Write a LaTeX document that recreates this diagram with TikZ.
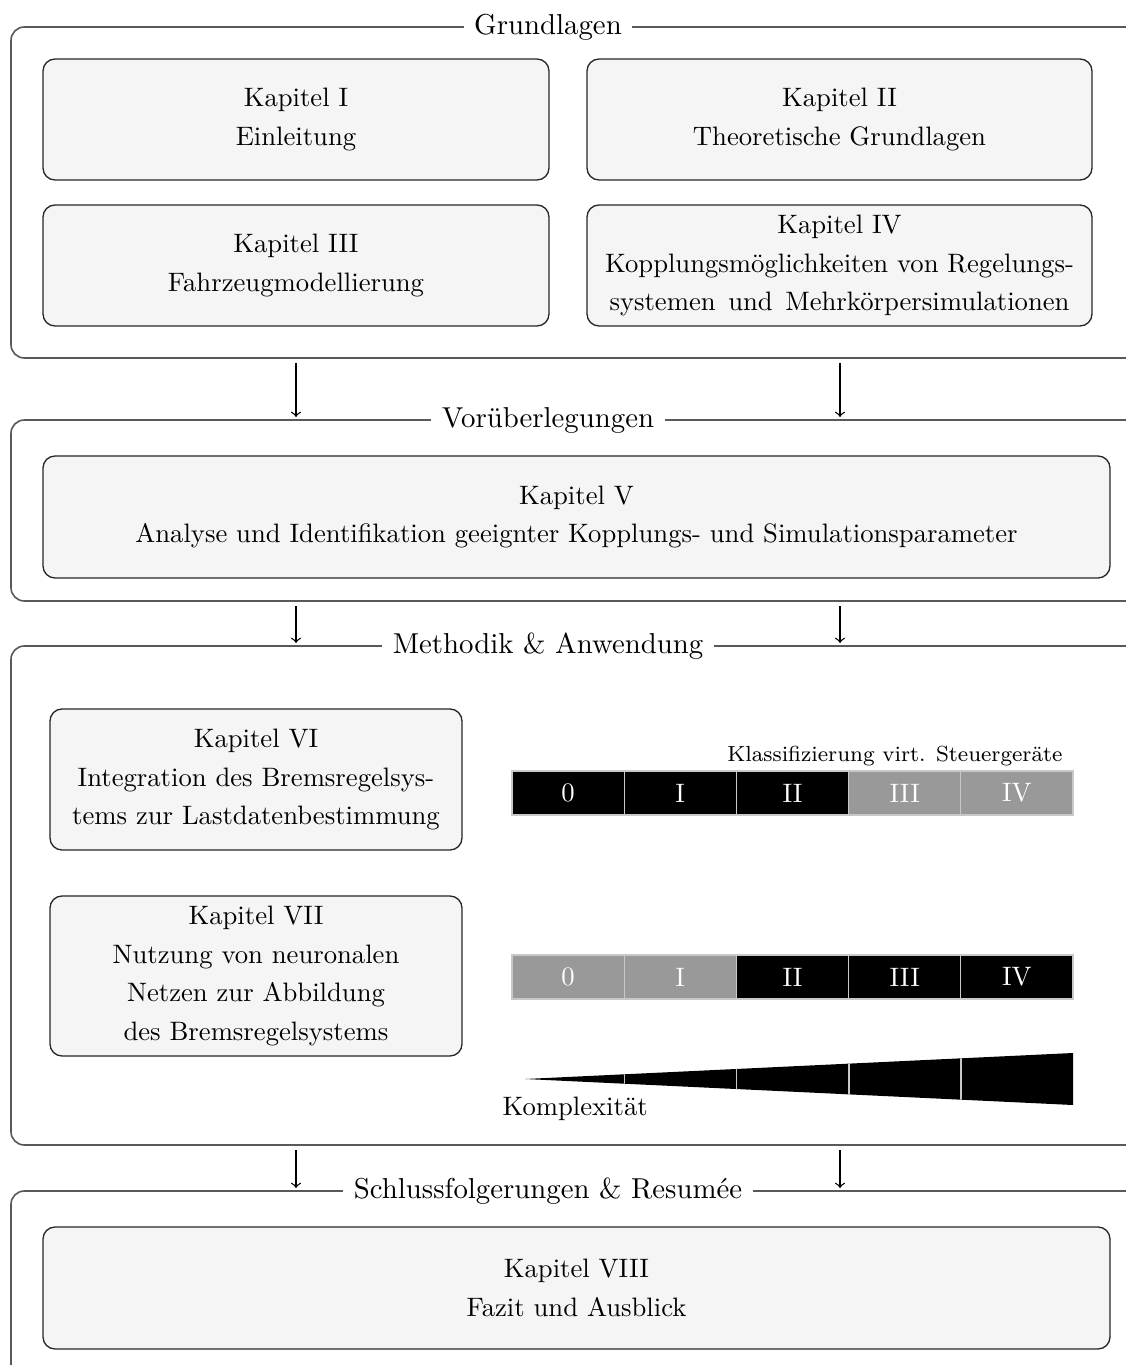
\documentclass[tikz,border=0pt]{standalone}
\usepackage{fontspec}
\usetikzlibrary{fit}
\definecolor{boxfill}{HTML}{F5F5F5}
\definecolor{cellgray}{HTML}{999999}
\definecolor{sepgray}{HTML}{C8C8C8}
\tikzset{
  frame/.style={draw=black!65, line width=0.6pt, rounded corners=5pt},
  ftitle/.style={fill=white, inner xsep=4pt, inner ysep=1pt, font=\fontsize{10.8}{13}\selectfont},
  chap/.style={draw=black!85, line width=0.5pt, fill=boxfill, rounded corners=4.5pt, inner sep=0pt},
  chaptext/.style={inner sep=0pt, align=center, font=\fontsize{10}{14.6}\selectfont},
  cell/.style={draw=sepgray, line width=0.4pt, minimum width=112.2*0.375pt,
    minimum height=44*0.375pt, inner sep=0pt, text=white, font=\fontsize{10}{12}\selectfont},
  on/.style={cell, fill=black},
  off/.style={cell, fill=cellgray},
  arr/.style={->, black, line width=0.5pt},
}
% chapter box: name, corner 1, corner 2, text
\newcommand\chapterbox[4]{%
  \node[chap, fit={#2 #3}] (#1) {};
  \node[chaptext] (#1t) at (#1.center) {#4};}
\begin{document}
\begin{tikzpicture}[x=0.375pt, y=-0.375pt]
\clip (0,0) rectangle (1126,1365);
\fill[white] (0,0) rectangle (1126,1365);

% ---- Grundlagen ----
\draw[frame] (11,27) rectangle (1180,358);
\node[ftitle] (tgrund) at (548,27) {Grundlagen};
\chapterbox{k1}{(43,59)}{(549,180)}{Kapitel I\\Einleitung}
\chapterbox{k2}{(587,59)}{(1092,180)}{Kapitel II\\Theoretische Grundlagen}
\chapterbox{k3}{(43,205)}{(549,326)}{Kapitel III\\Fahrzeugmodellierung}
\chapterbox{k4}{(587,205)}{(1092,326)}{Kapitel IV\\Kopplungsmöglichkeiten von Regelungs-\\\makebox[172.5pt][s]{systemen und Mehrkörpersimulationen}}

% ---- Vorueberlegungen ----
\draw[frame] (11,420) rectangle (1180,601);
\node[ftitle] (tvor) at (548,420) {Vorüberlegungen};
\chapterbox{k5}{(43,456)}{(1110,578)}{Kapitel V\\Analyse und Identifikation geeignter Kopplungs- und Simulationsparameter}

% ---- Methodik & Anwendung ----
\draw[frame] (11,646) rectangle (1180,1145);
\node[ftitle] (tmeth) at (548,646) {Methodik \& Anwendung};
\chapterbox{k6}{(50,709)}{(462,850)}{Kapitel VI\\Integration des Bremsregelsys-\\tems zur Lastdatenbestimmung}
\chapterbox{k7}{(50,896)}{(462,1056)}{Kapitel VII\\Nutzung von neuronalen\\Netzen zur Abbildung\\des Bremsregelsystems}

\node[anchor=base east, inner sep=0pt, font=\fontsize{8.2}{10}\selectfont] (klass) at (1063,761) {Klassifizierung virt. Steuergeräte};
\node[on]  (a0) at (568.1,793) {0};
\node[on]  (a1) at (680.3,793) {I};
\node[on]  (a2) at (792.5,793) {II};
\node[off] (a3) at (904.7,793) {III};
\node[off] (a4) at (1016.9,793) {IV};

\node[off] (b0) at (568.1,977) {0};
\node[off] (b1) at (680.3,977) {I};
\node[on]  (b2) at (792.5,977) {II};
\node[on]  (b3) at (904.7,977) {III};
\node[on]  (b4) at (1016.9,977) {IV};

% complexity wedge with segment separators
\fill[black] (525,1079) -- (1073,1053) -- (1073,1105) -- cycle;
\begin{scope}
  \clip (525,1079) -- (1073,1053) -- (1073,1105) -- cycle;
  \foreach \xs in {624.5,736.7,848.9,961.1}
    \draw[sepgray, line width=0.5pt] (\xs,1040) -- (\xs,1120);
\end{scope}
\node[anchor=west, inner sep=0pt, font=\fontsize{10}{12}\selectfont] (komp) at (502,1109) {Komplexität};

% ---- Schlussfolgerungen & Resumee ----
\draw[frame] (11,1191) rectangle (1180,1420);
\node[ftitle] (tschl) at (548,1191) {Schlussfolgerungen \& Resumée};
\chapterbox{k8}{(43,1227)}{(1110,1349)}{Kapitel VIII\\Fazit und Ausblick}

% ---- transitions between the sections ----
\coordinate (p1s) at (296,363);  \coordinate (p1e) at (296,417);
\coordinate (q1s) at (840,363);  \coordinate (q1e) at (840,417);
\coordinate (p2s) at (296,606);  \coordinate (p2e) at (296,643);
\coordinate (q2s) at (840,606);  \coordinate (q2e) at (840,643);
\coordinate (p3s) at (296,1150); \coordinate (p3e) at (296,1188);
\coordinate (q3s) at (840,1150); \coordinate (q3e) at (840,1188);
\draw[arr] (p1s) -- (p1e);
\draw[arr] (q1s) -- (q1e);
\draw[arr] (p2s) -- (p2e);
\draw[arr] (q2s) -- (q2e);
\draw[arr] (p3s) -- (p3e);
\draw[arr] (q3s) -- (q3e);
\end{tikzpicture}
\end{document}
